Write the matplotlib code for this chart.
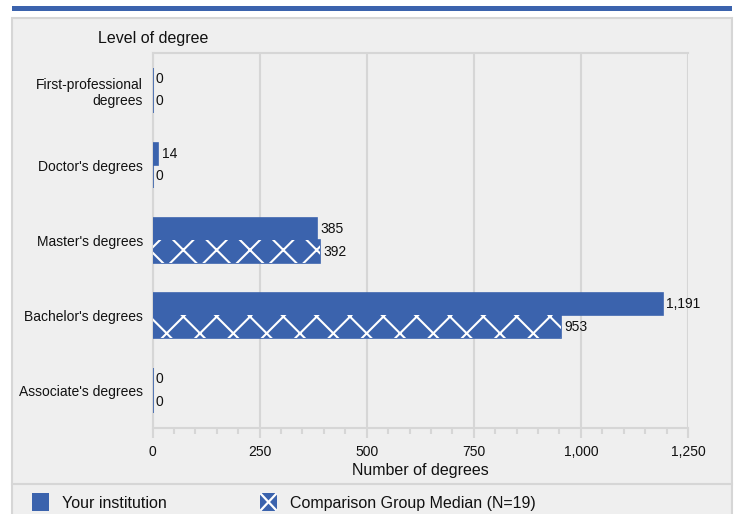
import matplotlib
matplotlib.use("Agg")
import matplotlib.pyplot as plt
from matplotlib.patches import Rectangle
from matplotlib.lines import Line2D
from matplotlib.ticker import MultipleLocator, FuncFormatter

plt.rcParams['font.family'] = ['Liberation Sans', 'DejaVu Sans']
plt.rcParams['hatch.linewidth'] = 1.5
plt.rcParams['hatch.color'] = 'white'

categories = ["First-professional\ndegrees", "Doctor's degrees", "Master's degrees",
              "Bachelor's degrees", "Associate's degrees"]
your_institution = [0, 14, 385, 1191, 0]
comparison_median = [0, 0, 392, 953, 0]
series_names = ["Your institution", "Comparison Group Median (N=19)"]
x_ticks = [0, 250, 500, 750, 1000, 1250]

BLUE = '#3b63ad'
PANEL = '#efefef'
BORDER = '#d6d6d6'
TXT = '#111111'
W, H = 738, 514

fig = plt.figure(figsize=(W/100, H/100), dpi=100)
fig.patch.set_facecolor('white')

def fx(px):
    return px / W

def fy(py):
    return 1 - py / H

# panel background
fig.add_artist(Rectangle((fx(12), fy(520)), fx(732) - fx(12), fy(18) - fy(520),
                         transform=fig.transFigure, facecolor=PANEL, edgecolor=BORDER,
                         linewidth=1.5, zorder=0))
# top blue bar
fig.add_artist(Rectangle((fx(12), fy(11)), fx(732) - fx(12), fy(6) - fy(11),
                         transform=fig.transFigure, facecolor=BLUE, edgecolor='none', zorder=1))
# legend separator
fig.add_artist(Line2D([fx(12), fx(732)], [fy(484), fy(484)], transform=fig.transFigure,
                      color=BORDER, linewidth=1.5, zorder=1))

ax = fig.add_axes([fx(152.5), fy(428), fx(688) - fx(152.5), fy(52.5) - fy(428)])
ax.set_facecolor(PANEL)

y = list(range(len(categories)))
h = 0.3
y1 = [v - h / 2 for v in y]
y2 = [v + h / 2 for v in y]

ax.barh(y1, your_institution, height=h, color=BLUE, edgecolor=BLUE, linewidth=1.2, zorder=3)
ax.barh(y2, comparison_median, height=h, color=BLUE, edgecolor=BLUE, linewidth=1.2, zorder=3)
ax.barh(y2, comparison_median, height=h, facecolor='none', edgecolor='white', linewidth=0,
        hatch='x', zorder=4)

for yy, v in zip(y1, your_institution):
    ax.annotate(f"{v:,}", (v, yy), xytext=(2.5, 0), textcoords='offset points',
                va='center', ha='left', fontsize=10, color=TXT, zorder=5)
for yy, v in zip(y2, comparison_median):
    ax.annotate(f"{v:,}", (v, yy), xytext=(2.5, 0), textcoords='offset points',
                va='center', ha='left', fontsize=10, color=TXT, zorder=5)

ax.set_xlim(0, 1250)
ax.set_ylim(4.5, -0.5)
ax.set_xticks(x_ticks)
ax.xaxis.set_minor_locator(MultipleLocator(50))
ax.xaxis.set_major_formatter(FuncFormatter(lambda v, p: f"{int(v):,}"))
ax.set_yticks(y)
ax.set_yticklabels(categories, fontsize=10, color=TXT)
ax.tick_params(axis='y', length=0, pad=7)
ax.tick_params(axis='x', which='major', length=7, width=1.5, color=BORDER,
               labelsize=10, labelcolor=TXT, pad=5.5)
ax.tick_params(axis='x', which='minor', length=4, width=1.5, color=BORDER)
ax.grid(axis='x', color=BORDER, linewidth=1.5, zorder=1)
ax.set_axisbelow(True)
for s in ['top', 'left', 'bottom']:
    ax.spines[s].set_color(BORDER)
    ax.spines[s].set_linewidth(1.5)
ax.spines['right'].set_visible(False)
ax.set_xlabel("Number of degrees", fontsize=11.5, color=TXT, labelpad=2.5)

fig.text(fx(98), fy(43), "Level of degree", fontsize=11.5, color=TXT, va='baseline', ha='left')

# legend
fig.add_artist(Rectangle((fx(32), fy(511)), fx(49) - fx(32), fy(493) - fy(511),
                         transform=fig.transFigure, facecolor=BLUE, edgecolor='none'))
fig.text(fx(62), fy(508), series_names[0], fontsize=11.5, color=TXT, va='baseline', ha='left')
fig.add_artist(Rectangle((fx(260), fy(511)), fx(277) - fx(260), fy(493) - fy(511),
                         transform=fig.transFigure, facecolor=BLUE, edgecolor='none'))
fig.add_artist(Line2D([fx(261), fx(276)], [fy(494), fy(510)], transform=fig.transFigure,
                      color='white', linewidth=1.6))
fig.add_artist(Line2D([fx(261), fx(276)], [fy(510), fy(494)], transform=fig.transFigure,
                      color='white', linewidth=1.6))
fig.text(fx(290), fy(508), series_names[1], fontsize=11.5, color=TXT, va='baseline', ha='left')

fig.savefig("out.png", dpi=100, facecolor='white')
